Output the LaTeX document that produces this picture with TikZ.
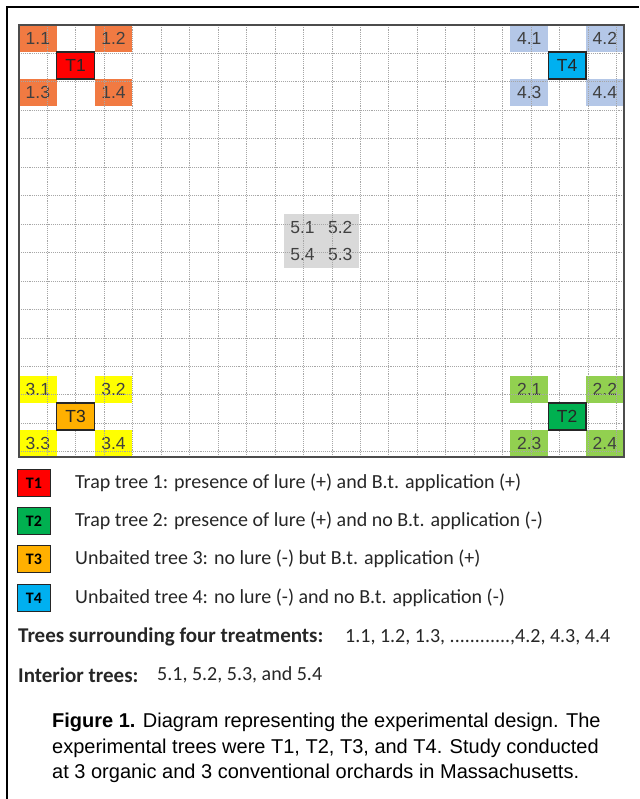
\documentclass[tikz,border=0pt]{standalone}
\usepackage{fontspec}
\setmainfont{Carlito}
\newfontfamily\arialfont{Liberation Sans}
\usetikzlibrary{positioning}

\definecolor{sur1}{RGB}{241,122,66}
\definecolor{sur2}{RGB}{146,208,80}
\definecolor{sur3}{RGB}{255,255,0}
\definecolor{sur4}{RGB}{180,199,231}
\definecolor{trt1}{RGB}{255,0,0}
\definecolor{trt2}{RGB}{0,176,80}
\definecolor{trt3}{RGB}{255,176,0}
\definecolor{trt4}{RGB}{0,176,240}
\definecolor{inner}{RGB}{217,217,217}

\begin{document}
\begin{tikzpicture}[x=1pt, y=-1pt,
        cell/.style={
            minimum width=37.8pt, minimum height=27pt, inner sep=0pt,
            font=\arialfont\fontsize{17.5}{17.5}\selectfont, text=black!75
        },
        trt/.style={cell, draw=black!85, line width=1.3pt, text=black!85},
        key/.style={
            draw=black!85, line width=1pt, minimum width=33pt, minimum height=27pt,
            inner sep=0pt, font=\bfseries\fontsize{16}{16}\selectfont
        },
        keytext/.style={inner sep=0pt, font=\fontsize{20}{20}\selectfont, text=black!85},
        gridline/.style={gray!70, densely dotted, line width=0.9pt}
    ]
        \useasboundingbox (0,0) rectangle (639,799);
        \draw[line width=2pt] (7,799) -- (7,7) -- (639,7);

        % orchard grid, 16 x 16 trees
        \begin{scope}[shift={(19,25)}, x=37.8pt, y=-27pt]
            \foreach \g/\cx/\cy in {1/0/0, 4/13/0, 3/0/13, 2/13/13} {
                \foreach \k/\dx/\dy in {1/0/0, 2/2/0, 3/0/2, 4/2/2}
                    \node[cell, fill=sur\g] (s\g\k) at (\cx+\dx+.5, \cy+\dy+.5) {\g.\k};
            }
            \foreach \k/\cx/\cy in {1/7/7, 2/8/7, 4/7/8, 3/8/8}
                \node[cell, fill=inner] (i\k) at (\cx+.5, \cy+.5) {5.\k};

            \draw[gridline] (0,0) grid (16,16);
            \draw[black!70, line width=1.5pt] (0,0) rectangle (16,16);

            \foreach \g/\cx/\cy in {1/0/0, 4/13/0, 3/0/13, 2/13/13}
                \node[trt, fill=trt\g] (t\g) at (\cx+1.5, \cy+1.5) {T\g};
        \end{scope}

        % legend
        \node[key, fill=trt1] (k1) at (34,483) {T1};
        \node[key, fill=trt2] (k2) at (34,521) {T2};
        \node[key, fill=trt3] (k3) at (34,559) {T3};
        \node[key, fill=trt4] (k4) at (34,598) {T4};
        \node[keytext, right=24pt of k1] (l1) {Trap tree 1: presence of lure (+) and B.t. application (+)};
        \node[keytext, right=24pt of k2] (l2) {Trap tree 2: presence of lure (+) and no B.t. application (-)};
        \node[keytext, right=24pt of k3] (l3) {Unbaited tree 3: no lure (-) but B.t. application (+)};
        \node[keytext, right=24pt of k4] (l4) {Unbaited tree 4: no lure (-) and no B.t. application (-)};

        \node[keytext, anchor=west, font=\bfseries\fontsize{21}{21}\selectfont] (surr) at (18,637) {Trees surrounding four treatments:};
        \node[keytext, anchor=west] (surrv) at (345,637) {1.1, 1.2, 1.3, ............,4.2, 4.3, 4.4};
        \node[keytext, anchor=west, font=\bfseries\fontsize{21}{21}\selectfont] (intr) at (18,675) {Interior trees:};
        \node[keytext, anchor=west] (intrv) at (157,675) {5.1, 5.2, 5.3, and 5.4};

        % caption
        \node[anchor=north west, align=left, inner sep=0pt,
            font=\arialfont\fontsize{20}{25.5}\selectfont] (cap) at (52,713) {
            \textbf{Figure 1.} Diagram representing the experimental design. The\\
            experimental trees were T1, T2, T3, and T4. Study conducted\\
            at 3 organic and 3 conventional orchards in Massachusetts.
        };
    \end{tikzpicture}
\end{document}
